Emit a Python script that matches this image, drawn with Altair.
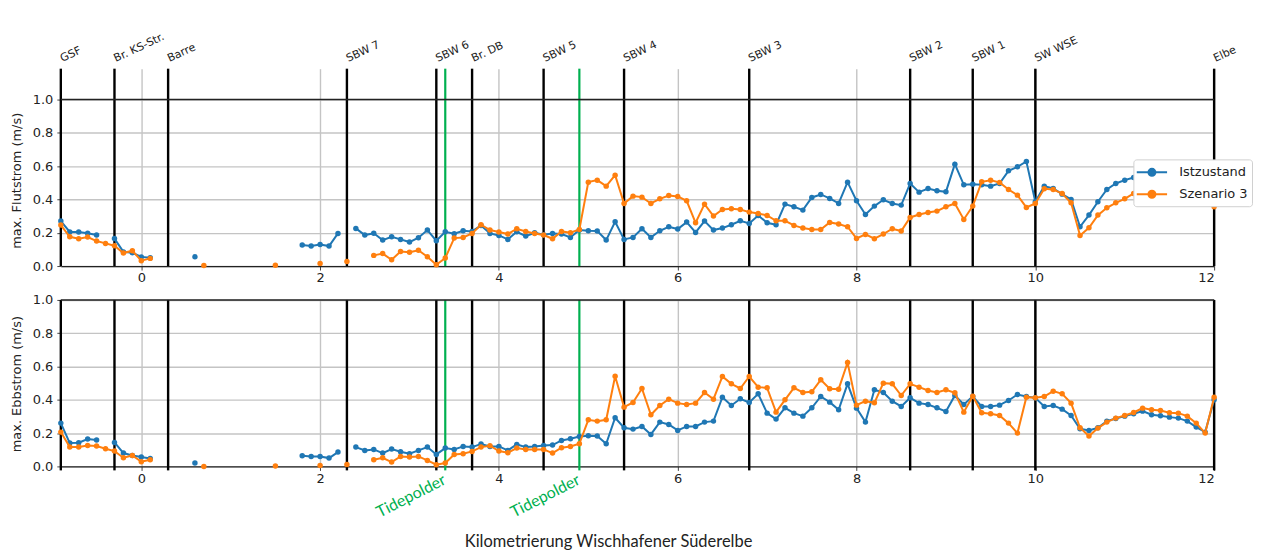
import altair as alt
import pandas as pd

N = None
# kilometre positions of the measuring points (every 100 m from -0.9 to 12.0)
KM = [round(-0.9 + 0.1 * i, 1) for i in range(130)]

# ---------------- max. Flutstrom ----------------
flut_ist = (
    [0.27, 0.205, 0.205, 0.197, 0.186, N, 0.165, 0.085, 0.08, 0.055, 0.05]          # -0.9 .. 0.1
    + [N, N, N, N, 0.056, N, N, N, N, N, N, N, N, N, N, N]                            # 0.2 .. 1.7
    + [0.126, 0.12, 0.13, 0.12, 0.196, N]                                              # 1.8 .. 2.3
    + [0.226, 0.186, 0.197, 0.156, 0.176, 0.16, 0.144, 0.17, 0.216, 0.152]             # 2.4 .. 3.3
    + [0.206, 0.194, 0.212, 0.208, 0.244, 0.196, 0.184, 0.16, 0.206, 0.18]             # 3.4 .. 4.3
    + [0.2, 0.188, 0.196, 0.192, 0.172, 0.216, 0.212, 0.21, 0.156, 0.266]              # 4.4 .. 5.3
    + [0.16, 0.172, 0.224, 0.172, 0.212, 0.236, 0.222, 0.264, 0.202, 0.27]             # 5.4 .. 6.3
    + [0.216, 0.228, 0.248, 0.272, 0.256, 0.304, 0.26, 0.248, 0.372, 0.356]            # 6.4 .. 7.3
    + [0.336, 0.412, 0.43, 0.406, 0.376, 0.504, 0.392, 0.31, 0.36, 0.398]              # 7.4 .. 8.3
    + [0.376, 0.366, 0.496, 0.444, 0.466, 0.452, 0.446, 0.612, 0.488, 0.492]           # 8.4 .. 9.3
    + [0.488, 0.48, 0.496, 0.572, 0.596, 0.628, 0.386, 0.48, 0.466, 0.432]             # 9.4 .. 10.3
    + [0.4, 0.236, 0.306, 0.386, 0.46, 0.496, 0.516, 0.532, 0.58, 0.575]               # 10.4 .. 11.3
    + [0.565, 0.56, 0.55, 0.54, 0.52, 0.49, 0.37]                                       # 11.4 .. 12.0
)
flut_sz3 = (
    [0.246, 0.176, 0.164, 0.174, 0.15, 0.136, 0.122, 0.078, 0.092, 0.032, 0.046]
    + [N, N, N, N, N, 0.003, N, N, N, N, N, N, N, 0.005, N, N]
    + [N, N, 0.016, N, N, 0.027]
    + [N, N, 0.064, 0.075, 0.038, 0.087, 0.083, 0.095, 0.056, 0.008]
    + [0.048, 0.168, 0.172, 0.196, 0.248, 0.216, 0.204, 0.192, 0.224, 0.208]
    + [0.196, 0.186, 0.164, 0.208, 0.2, 0.22, 0.504, 0.516, 0.48, 0.546]
    + [0.376, 0.42, 0.414, 0.376, 0.404, 0.424, 0.418, 0.392, 0.26, 0.372]
    + [0.3, 0.34, 0.344, 0.34, 0.324, 0.316, 0.304, 0.272, 0.272, 0.244]
    + [0.228, 0.22, 0.22, 0.262, 0.252, 0.236, 0.166, 0.19, 0.164, 0.192]
    + [0.224, 0.21, 0.292, 0.31, 0.322, 0.33, 0.356, 0.376, 0.28, 0.36]
    + [0.506, 0.516, 0.502, 0.46, 0.426, 0.352, 0.376, 0.464, 0.46, 0.436]
    + [0.38, 0.184, 0.23, 0.306, 0.35, 0.38, 0.404, 0.436, 0.465, 0.485]
    + [0.5, 0.51, 0.515, 0.515, 0.5, 0.44, 0.356]
)

# ---------------- max. Ebbstrom ----------------
ebb_ist = (
    [0.26, 0.14, 0.142, 0.164, 0.158, N, 0.144, 0.08, 0.066, 0.056, 0.048]
    + [N, N, N, N, 0.02, N, N, N, N, N, N, N, N, N, N, N]
    + [0.064, 0.06, 0.06, 0.05, 0.086, N]
    + [0.116, 0.096, 0.102, 0.08, 0.104, 0.088, 0.076, 0.096, 0.116, 0.072]
    + [0.11, 0.102, 0.12, 0.116, 0.134, 0.12, 0.12, 0.096, 0.132, 0.116]
    + [0.12, 0.126, 0.128, 0.156, 0.166, 0.18, 0.184, 0.182, 0.136, 0.292]
    + [0.232, 0.224, 0.24, 0.192, 0.266, 0.252, 0.216, 0.24, 0.24, 0.266]
    + [0.272, 0.416, 0.366, 0.406, 0.384, 0.436, 0.32, 0.284, 0.352, 0.32]
    + [0.302, 0.352, 0.42, 0.386, 0.34, 0.496, 0.35, 0.266, 0.46, 0.444]
    + [0.392, 0.36, 0.412, 0.38, 0.372, 0.352, 0.33, 0.426, 0.372, 0.42]
    + [0.36, 0.36, 0.368, 0.396, 0.432, 0.42, 0.412, 0.36, 0.366, 0.344]
    + [0.306, 0.226, 0.216, 0.232, 0.272, 0.288, 0.302, 0.316, 0.332, 0.31]
    + [0.304, 0.296, 0.29, 0.272, 0.236, 0.206, 0.40]
)
ebb_sz3 = (
    [0.206, 0.116, 0.116, 0.126, 0.122, 0.106, 0.092, 0.052, 0.066, 0.028, 0.04]
    + [N, N, N, N, N, 0.0, N, N, N, N, N, N, N, 0.003, N, N]
    + [N, N, 0.006, N, N, 0.012]
    + [N, N, 0.04, 0.052, 0.026, 0.06, 0.056, 0.06, 0.036, 0.01]
    + [0.02, 0.072, 0.076, 0.09, 0.116, 0.124, 0.092, 0.082, 0.11, 0.102]
    + [0.102, 0.102, 0.08, 0.112, 0.12, 0.136, 0.28, 0.272, 0.28, 0.542]
    + [0.356, 0.384, 0.468, 0.31, 0.366, 0.404, 0.38, 0.372, 0.38, 0.444]
    + [0.404, 0.54, 0.496, 0.468, 0.54, 0.476, 0.472, 0.326, 0.4, 0.472]
    + [0.444, 0.448, 0.52, 0.466, 0.464, 0.624, 0.368, 0.392, 0.382, 0.5]
    + [0.496, 0.426, 0.496, 0.476, 0.456, 0.444, 0.46, 0.442, 0.326, 0.422]
    + [0.322, 0.316, 0.306, 0.26, 0.2, 0.416, 0.412, 0.42, 0.452, 0.436]
    + [0.38, 0.232, 0.182, 0.23, 0.266, 0.29, 0.306, 0.324, 0.35, 0.34]
    + [0.336, 0.322, 0.32, 0.302, 0.26, 0.2, 0.416]
)

# structures (black lines) and tide polders (green lines)
struct_names = ["GSF", "Br. KS-Str.", "Barre", "SBW 7", "SBW 6", "Br. DB", "SBW 5",
                "SBW 4", "SBW 3", "SBW 2", "SBW 1", "SW WSE", "Elbe"]
struct_km = [-0.9, -0.3, 0.3, 2.3, 3.3, 3.7, 4.5, 5.4, 6.8, 8.6, 9.3, 10.0, 12.0]
polder_km = [3.4, 4.9]
polder_names = ["Tidepolder", "Tidepolder"]

series_names = ["Istzustand", "Szenario 3"]
series_colors = ["#1f77b4", "#ff7f0e"]
x_ticks = [0, 2, 4, 6, 8, 10, 12]
y_ticks = [0.0, 0.2, 0.4, 0.6, 0.8, 1.0]

W = 1157
H_TOP = 198
H_BOT = 167
YMAX_TOP = 1.0 * H_TOP / 167


def series_df(vals, name):
    rows, seg, prev = [], 0, False
    for k, v in zip(KM, vals):
        if v is None:
            prev = False
            continue
        if not prev:
            seg += 1
        rows.append({"km": k, "v": v, "serie": name, "seg": f"{name}-{seg}"})
        prev = True
    return pd.DataFrame(rows)


# legend glyph: line with a dot (unit = 8 px for a 16 px symbol box)
LEGEND_SYMBOL = ("M-1.2,0L2.6,0M0.26,0A0.44,0.44,0,1,0,1.14,0"
                 "A0.44,0.44,0,1,0,0.26,0Z")


def panel(ist, sz3, ytitle, ymax, h, top):
    df = pd.concat([series_df(ist, series_names[0]), series_df(sz3, series_names[1])],
                   ignore_index=True)
    x_axis = alt.Axis(values=x_ticks, format="d", grid=True, gridColor="#c4c4c4",
                      gridWidth=1.4, tickSize=4, labelPadding=2,
                      title=None if top else "Kilometrierung Wischhafener Süderelbe",
                      titleFont="Lato", titleFontSize=16.5, titleFontWeight="normal",
                      titleColor="#222", titleX=549, titleY=80, titleAlign="center",
                      titleBaseline="alphabetic")
    y_axis = alt.Axis(values=y_ticks, format=".1f", grid=True, gridColor="#c4c4c4",
                      gridWidth=1.4, tickSize=4, labelPadding=4, title=ytitle,
                      titlePadding=9, titleY=(112 if top else 84), titleAlign="center",
                      domain=False)
    X = alt.X("km:Q", scale=alt.Scale(domain=[-0.9, 12], nice=False, zero=False), axis=x_axis)
    Y = alt.Y("v:Q", scale=alt.Scale(domain=[0, ymax], nice=False, zero=True), axis=y_axis)
    legend = (alt.Legend(title=None, orient="none", legendX=1076, legendY=91,
                         symbolType=LEGEND_SYMBOL, symbolSize=256, symbolStrokeWidth=2,
                         labelFont="DejaVu Sans", labelFontSize=13, labelColor="#222",
                         labelOffset=24, fillColor="white", strokeColor="#d0d0d0",
                         padding=4, cornerRadius=3, rowPadding=5)
              if top else None)
    C = alt.Color("serie:N", scale=alt.Scale(domain=series_names, range=series_colors),
                  legend=legend)

    sdf = pd.DataFrame({"km": struct_km, "name": struct_names})
    pdf = pd.DataFrame({"km": polder_km, "name": polder_names})
    hdf = pd.DataFrame({"v": [1.0]})

    y2 = h if top else h + 4
    rules = alt.Chart(sdf).mark_rule(color="black", strokeWidth=2.4).encode(
        x=X, y=alt.value(0), y2=alt.value(y2))
    green = alt.Chart(pdf).mark_rule(color="#00b050", strokeWidth=2.2).encode(
        x=X, y=alt.value(0), y2=alt.value(y2))
    hline = alt.Chart(hdf).mark_rule(color="#222", strokeWidth=1.5).encode(y=Y)

    layers = [rules, green, hline]
    for s in series_names:
        base = alt.Chart(df).transform_filter(alt.datum.serie == s)
        layers.append(base.mark_line(strokeWidth=2).encode(x=X, y=Y, color=C, detail="seg:N"))
        layers.append(base.mark_circle(size=30, opacity=1).encode(x=X, y=Y, color=C))

    if top:
        layers.append(alt.Chart(sdf).mark_text(
            angle=335, align="left", baseline="alphabetic", dx=1.5,
            font="DejaVu Sans", fontSize=11, color="#222").encode(
            x=X, y=alt.value(-6), text="name:N"))
    else:
        layers.append(alt.Chart(pdf).mark_text(
            angle=333, align="right", baseline="alphabetic", dx=2,
            font="Lato", fontSize=16, color="#00b050").encode(
            x=X, y=alt.value(h + 18), text="name:N"))

    return alt.layer(*layers).properties(width=W, height=h)


top_chart = panel(flut_ist, flut_sz3, "max. Flutstrom (m/s)", YMAX_TOP, H_TOP, True)
bot_chart = panel(ebb_ist, ebb_sz3, "max. Ebbstrom (m/s)", 1.0, H_BOT, False)

chart = alt.vconcat(top_chart, bot_chart, spacing=9).resolve_scale(
    color="independent").properties(
    padding={"left": 2, "top": 22, "right": 0, "bottom": 0}
).configure_view(stroke=None).configure_axis(
    labelFont="DejaVu Sans", labelFontSize=13, labelColor="#222",
    titleFont="DejaVu Sans", titleFontSize=13, titleFontWeight="normal", titleColor="#222",
    domainColor="#222", domainWidth=1.3, tickColor="#444"
)

chart.save("out.html", embed_options={"renderer": "svg", "actions": False})
